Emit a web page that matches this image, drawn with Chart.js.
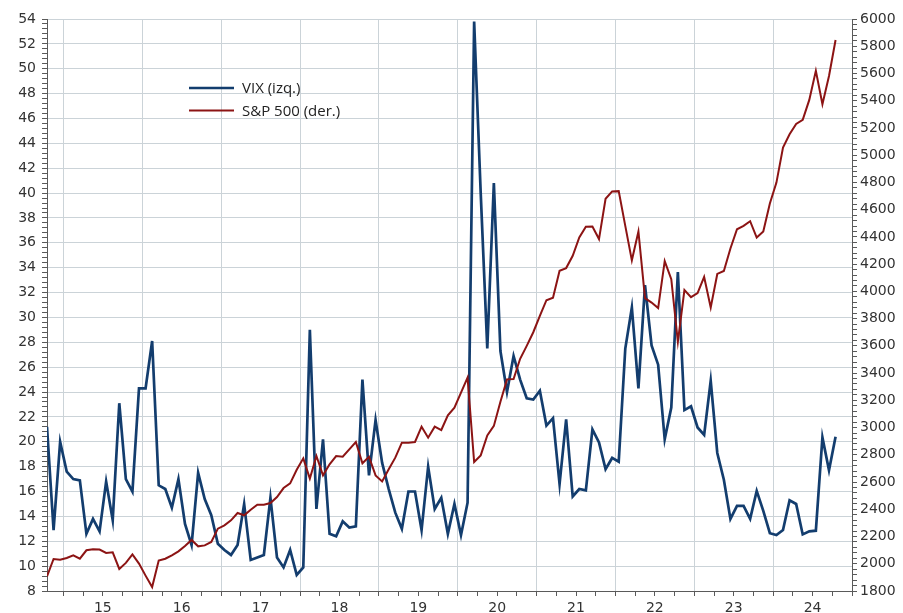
<!DOCTYPE html>
<html lang="es">
<head>
<meta charset="UTF-8">
<title>VIX y S&amp;P 500</title>
<script src="https://cdn.jsdelivr.net/npm/chart.js@4"></script>
<style>
  html, body { margin: 0; padding: 0; background: #fff; }
</style>
</head>
<body>
<canvas id="chart" width="903" height="613"></canvas>
<script>
// monthly observations (mid-month), Oct 2014 .. Oct 2024
var startYear = 2014, startMonth = 10;

var vix = [
  21.2, 12.9, 20.0, 17.6, 17.0, 16.9, 12.6, 13.8, 12.8, 16.8, 13.7, 23.1,
  17.0, 16.0, 24.3, 24.3, 28.1, 16.5, 16.2, 14.7, 17.0, 13.4, 11.7, 17.5,
  15.4, 14.1, 11.8, 11.3, 10.9, 11.7, 15.0, 10.5, 10.7, 10.9, 15.5, 10.7,
  9.9, 11.3, 9.3, 9.9, 29.0, 14.6, 20.2, 12.6, 12.4, 13.6, 13.1, 13.2,
  25.0, 17.3, 21.75, 18.3, 16.2, 14.3, 13.0, 16.0, 16.0, 12.9, 18.0, 14.6,
  15.5, 12.6, 15.0, 12.5, 15.1, 53.8, 40.0, 27.5, 40.8, 27.3, 24.0, 26.9,
  25.0, 23.5, 23.4, 24.1, 21.3, 21.9, 16.6, 21.8, 15.6, 16.2, 16.1, 21.0,
  19.95, 17.8, 18.7, 18.4, 27.5, 30.8, 24.3, 32.6, 27.75, 26.2, 20.2, 22.75,
  33.65, 22.55, 22.85, 21.15, 20.55, 24.9, 19.1, 16.95, 13.8, 14.85, 14.85, 13.8,
  16.05, 14.45, 12.65, 12.5, 12.9, 15.3, 15.0, 12.55, 12.8, 12.85, 20.35, 17.7,
  20.4
];

var spx = [
  1908, 2035, 2030, 2042, 2062, 2037, 2099, 2106, 2104, 2079, 2084, 1962,
  2006, 2069, 2001, 1913, 1829, 2023, 2037, 2062, 2091, 2130, 2175, 2128,
  2135, 2160, 2258, 2282, 2319, 2373, 2356, 2397, 2434, 2434, 2446, 2490,
  2556, 2590, 2690, 2774, 2625, 2791, 2649, 2730, 2791, 2786, 2840, 2894,
  2738, 2786, 2649, 2605, 2694, 2779, 2889, 2889, 2894, 3007, 2926, 3007,
  2982, 3090, 3146, 3257, 3367, 2747, 2796, 2943, 3012, 3190, 3354, 3356,
  3505, 3600, 3700, 3820, 3935, 3954, 4151, 4171, 4261, 4396, 4474, 4477,
  4384, 4680, 4734, 4736, 4481, 4228, 4440, 3950, 3918, 3877, 4222, 4090,
  3630, 4010, 3958, 3987, 4106, 3882, 4128, 4150, 4315, 4456, 4481, 4515,
  4395, 4439, 4645, 4799, 5056, 5154, 5230, 5259, 5406, 5619, 5374, 5582,
  5846
];

var yearLabels = ['15', '16', '17', '18', '19', '20', '21', '22', '23', '24'];

// month labels for the observations
var months = [];
for (var i = 0; i < vix.length; i++) {
  var m = startMonth - 1 + i;
  months.push((startYear + Math.floor(m / 12)) + '-' + ('0' + (m % 12 + 1)).slice(-2));
}

var blue = '#133d6e';
var red = '#8c1414';
var gridColor = '#cbd3d8';
var axisColor = '#5a5a5a';
var tickFont = { family: 'DejaVu Sans', size: 14 };

// x position of each month: index; Jan 1st of a year falls half a month before January
var firstJan = 12 - startMonth + 0.5;

function toPoints(arr) {
  return arr.map(function (v, i) { return { x: i, y: v }; });
}

var insideLegend = {
  id: 'insideLegend',
  afterDatasetsDraw: function (chart) {
    var ctx = chart.ctx;
    chart.data.datasets.forEach(function (ds, i) {
      var y = 88 + i * 22.5;
      ctx.save();
      ctx.strokeStyle = ds.borderColor;
      ctx.lineWidth = ds.borderWidth;
      ctx.beginPath();
      ctx.moveTo(189, y);
      ctx.lineTo(234, y);
      ctx.stroke();
      ctx.fillStyle = '#222';
      ctx.font = '15px "Open Sans"';
      ctx.textBaseline = 'middle';
      ctx.fillText(ds.label, 242, y + 1);
      ctx.restore();
    });
  }
};

new Chart(document.getElementById('chart'), {
  type: 'line',
  data: {
    datasets: [
      { label: 'VIX (izq.)', data: toPoints(vix), yAxisID: 'y', borderColor: blue, borderWidth: 2.7, order: 1 },
      { label: 'S&P 500 (der.)', data: toPoints(spx), yAxisID: 'y2', borderColor: red, borderWidth: 2, order: 0 }
    ]
  },
  options: {
    responsive: false,
    animation: false,
    layout: { padding: { top: 19, left: 0, right: 0, bottom: 0 } },
    elements: { point: { radius: 0 }, line: { tension: 0 } },
    plugins: { legend: { display: false }, tooltip: { enabled: false } },
    scales: {
      x: {
        type: 'linear',
        min: 0,
        max: 122.5,
        afterBuildTicks: function (s) {
          var t = [];
          for (var k = 0; k <= 40; k++) t.push({ value: firstJan + 3 * k });
          s.ticks = t;
        },
        afterFit: function (s) { s.height = 22; },
        border: { color: axisColor, width: 1 },
        grid: {
          color: function (c) {
            return c.tick && (c.tick.value - firstJan) % 12 === 0 ? gridColor : 'rgba(0,0,0,0)';
          },
          tickColor: axisColor,
          tickLength: 5
        },
        ticks: {
          autoSkip: false,
          maxRotation: 0,
          padding: 4,
          color: '#333',
          font: tickFont,
          callback: function (v) {
            return (v - firstJan) % 12 === 6 ? yearLabels[(v - firstJan - 6) / 12] : '';
          }
        }
      },
      y: {
        position: 'left',
        min: 8,
        max: 54,
        afterBuildTicks: function (s) {
          var t = [];
          for (var k = 0; k <= 115; k++) t.push({ value: Math.round((8 + k * 0.4) * 10) / 10 });
          s.ticks = t;
        },
        afterFit: function (s) { s.width = 47; },
        border: { color: axisColor, width: 1 },
        grid: {
          color: function (c) {
            return c.tick && c.tick.value % 2 === 0 ? gridColor : 'rgba(0,0,0,0)';
          },
          tickColor: axisColor,
          tickLength: 5
        },
        ticks: {
          autoSkip: false,
          padding: 6,
          color: '#333',
          font: tickFont,
          callback: function (v) { return v % 2 === 0 ? String(v) : ''; }
        }
      },
      y2: {
        position: 'right',
        min: 1800,
        max: 6000,
        afterBuildTicks: function (s) {
          var t = [];
          for (var k = 0; k <= 105; k++) t.push({ value: 1800 + k * 40 });
          s.ticks = t;
        },
        afterFit: function (s) { s.width = 51; },
        border: { color: axisColor, width: 1 },
        grid: { drawOnChartArea: false, tickColor: axisColor, tickLength: 5 },
        ticks: {
          autoSkip: false,
          padding: 3,
          color: '#333',
          font: tickFont,
          callback: function (v) { return v % 200 === 0 ? String(v) : ''; }
        }
      }
    }
  },
  plugins: [insideLegend]
});
</script>
</body>
</html>
